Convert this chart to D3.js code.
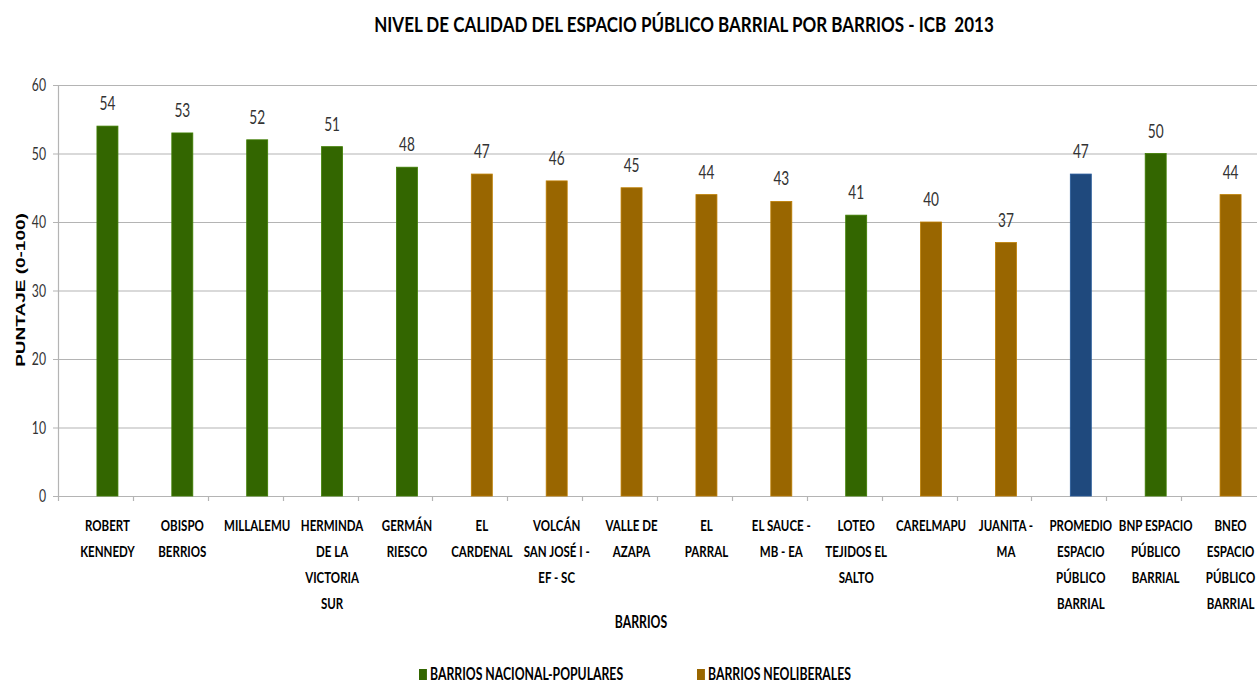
<!DOCTYPE html>
<html>
  <head>
    <meta charset="utf-8">
    <title>Nivel de calidad del espacio público barrial</title>
    <style>
      body { margin: 0; background: #fff; }
      svg { display: block; }
    </style>
  </head>
  <body>
    <div id="chart"></div>
    <script src="https://cdn.jsdelivr.net/npm/d3@7"></script>
    <script>
      var categories = [
        'ROBERT KENNEDY', 'OBISPO BERRIOS', 'MILLALEMU', 'HERMINDA DE LA VICTORIA SUR',
        'GERMÁN RIESCO', 'EL CARDENAL', 'VOLCÁN SAN JOSÉ I - EF - SC', 'VALLE DE AZAPA',
        'EL PARRAL', 'EL SAUCE - MB - EA', 'LOTEO TEJIDOS EL SALTO', 'CARELMAPU',
        'JUANITA - MA', 'PROMEDIO ESPACIO PÚBLICO BARRIAL', 'BNP ESPACIO PÚBLICO BARRIAL',
        'BNEO ESPACIO PÚBLICO BARRIAL'
      ];
      // wrapped tick labels, as shown under each bar
      var tickLabels = [
        ['ROBERT', 'KENNEDY'], ['OBISPO', 'BERRIOS'], ['MILLALEMU'], ['HERMINDA', 'DE LA', 'VICTORIA', 'SUR'],
        ['GERMÁN', 'RIESCO'], ['EL', 'CARDENAL'], ['VOLCÁN', 'SAN JOSÉ I -', 'EF - SC'], ['VALLE DE', 'AZAPA'],
        ['EL', 'PARRAL'], ['EL SAUCE -', 'MB - EA'], ['LOTEO', 'TEJIDOS EL', 'SALTO'], ['CARELMAPU'],
        ['JUANITA -', 'MA'], ['PROMEDIO', 'ESPACIO', 'PÚBLICO', 'BARRIAL'], ['BNP ESPACIO', 'PÚBLICO', 'BARRIAL'],
        ['BNEO', 'ESPACIO', 'PÚBLICO', 'BARRIAL']
      ];
      var values = [54, 53, 52, 51, 48, 47, 46, 45, 44, 43, 41, 40, 37, 47, 50, 44];
      var groups = ['nac', 'nac', 'nac', 'nac', 'nac', 'neo', 'neo', 'neo', 'neo', 'neo', 'nac', 'neo', 'neo', 'prom', 'nac', 'neo'];
      var yTicks = [0, 10, 20, 30, 40, 50, 60];
      var legendLabels = ['BARRIOS NACIONAL-POPULARES', 'BARRIOS NEOLIBERALES'];

      var width = 1257, height = 683;
      var SX = 0.72; // the picture is squeezed sideways
      var font = 'Lato, "Open Sans", sans-serif';

      var color = d3.scaleOrdinal()
        .domain(['nac', 'neo', 'prom'])
        .range(['#336600', '#996600', '#1f497d']);

      var svg = d3.select('#chart').append('svg')
        .attr('width', width)
        .attr('height', height);

      var x = d3.scaleBand().domain(categories).range([58, 1256]).padding(0);
      var y = d3.scaleLinear().domain([0, 60]).range([496, 85]);
      var barW = 21, barShift = 12;
      function cx(c) { return x(c) + x.bandwidth() / 2 + barShift; }

      function txt(g, px, py, s, size, weight, anchor, sx) {
        return g.append('text')
          .attr('transform', 'translate(' + px + ',' + py + ') scale(' + (sx || SX) + ',1)')
          .attr('text-anchor', anchor || 'middle')
          .attr('font-family', font)
          .attr('font-size', size)
          .attr('font-weight', weight || 'normal')
          .attr('fill', '#000')
          .text(s);
      }

      // gridlines
      svg.append('g').selectAll('line').data(yTicks).enter().append('line')
        .attr('x1', 53).attr('x2', width)
        .attr('y1', function(d) { return y(d) + 0.5; })
        .attr('y2', function(d) { return y(d) + 0.5; })
        .attr('stroke', '#b4b4b4').attr('stroke-width', 1.2);

      // y axis line
      svg.append('line')
        .attr('x1', 58.5).attr('x2', 58.5).attr('y1', y(60)).attr('y2', y(0) + 5)
        .attr('stroke', '#b4b4b4').attr('stroke-width', 1.2);

      // category ticks between bands
      svg.append('g').selectAll('line').data(categories.slice(1)).enter().append('line')
        .attr('x1', function(d) { return Math.round(x(d)) + 0.5; })
        .attr('x2', function(d) { return Math.round(x(d)) + 0.5; })
        .attr('y1', y(0)).attr('y2', y(0) + 5)
        .attr('stroke', '#b4b4b4').attr('stroke-width', 1.2);

      // y tick labels
      var yl = svg.append('g');
      yTicks.forEach(function(t) { txt(yl, 46, y(t) + 6, t, 17, 'normal', 'end').attr('fill', '#333'); });

      // bars
      svg.append('g').selectAll('rect').data(values).enter().append('rect')
        .attr('x', function(d, i) { return cx(categories[i]) - barW / 2; })
        .attr('y', function(d) { return y(d); })
        .attr('width', barW)
        .attr('height', function(d) { return y(0) - y(d); })
        .attr('fill', function(d, i) { return color(groups[i]); })
        .attr('stroke', function(d, i) { return d3.color(color(groups[i])).brighter(0.6); })
        .attr('stroke-width', 0.8);

      // value labels
      var vl = svg.append('g');
      values.forEach(function(v, i) { txt(vl, cx(categories[i]), y(v) - 16, v, 19, 'normal').attr('fill', '#333'); });

      // category labels
      var xl = svg.append('g');
      tickLabels.forEach(function(lines, i) {
        lines.forEach(function(l, j) { txt(xl, cx(categories[i]), 531 + j * 26, l, 16, 'bold'); });
      });

      // titles
      txt(svg, 684, 32, 'NIVEL DE CALIDAD DEL ESPACIO PÚBLICO BARRIAL POR BARRIOS - ICB  2013', 21, 'bold', 'middle', 0.81)
        .attr('xml:space', 'preserve').style('white-space', 'pre');
      txt(svg, 641, 628, 'BARRIOS', 17, 'bold');
      svg.append('text')
        .attr('transform', 'translate(25,290) scale(' + SX + ',1) rotate(-90)')
        .attr('text-anchor', 'middle')
        .attr('font-family', '"Liberation Sans", Arial, sans-serif')
        .attr('font-size', 19)
        .attr('font-weight', 'bold')
        .text('PUNTAJE (0-100)');

      // legend
      var legendX = [419, 697];
      var lg = svg.append('g');
      legendLabels.forEach(function(l, i) {
        lg.append('rect')
          .attr('x', legendX[i]).attr('y', 669)
          .attr('width', 11 * SX).attr('height', 11)
          .attr('fill', color(['nac', 'neo'][i]));
        txt(lg, legendX[i] + 11, 680, l, 17, 'bold', 'start');
      });
    </script>
  </body>
</html>
